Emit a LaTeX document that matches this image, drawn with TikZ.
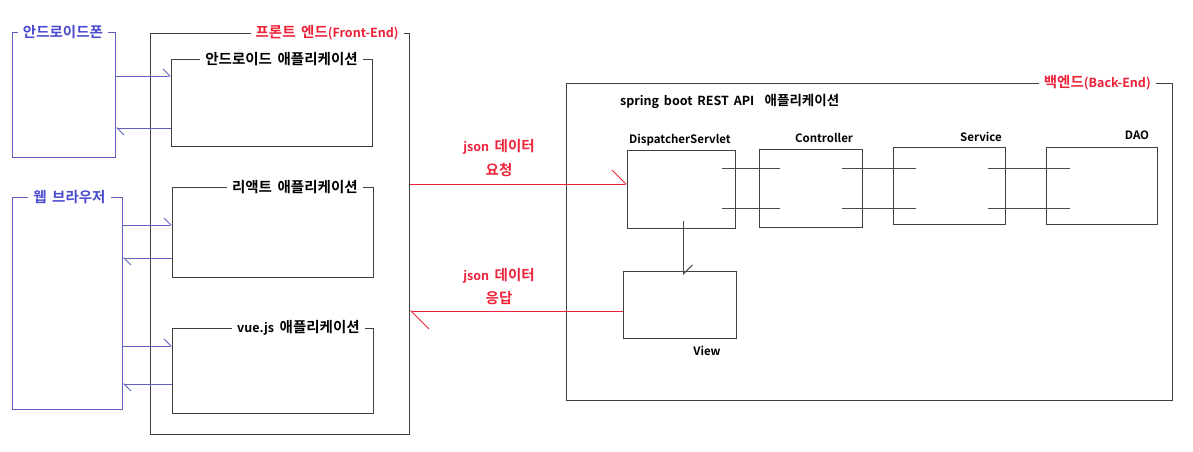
\documentclass[tikz,border=0pt]{standalone}
\usepackage{fontspec}
\setmainfont{Noto Sans CJK KR}[BoldFont={Noto Sans CJK KR Bold}, WordSpace=1.7]
\usetikzlibrary{arrows.meta,calc}
\definecolor{clientblue}{HTML}{4A4AD0}
\definecolor{linkblue}{HTML}{6060C0}
\definecolor{tagred}{HTML}{EE2238}
\newcommand{\en}[1]{{\fontsize{12.5}{15}\selectfont #1}}

\begin{document}
\begin{tikzpicture}[x=1pt, y=-1pt,
  font=\bfseries\fontsize{14.5}{17}\selectfont,
  box/.style={draw=black!75, line width=0.9pt, inner sep=0pt, anchor=north west},
  client/.style={box, draw=linkblue},
  tag/.style={fill=white, inner xsep=5pt, inner ysep=1pt},
  lbl/.style={inner sep=1pt},
  part/.style={inner sep=1pt, font=\bfseries\fontsize{11.5}{14}\selectfont},
  link/.style={draw=black!70, line width=0.9pt},
  call/.style={draw=linkblue, line width=0.9pt,
               -{Straight Barb[harpoon, length=7pt, width=14pt]}},
  json/.style={draw=tagred, line width=0.9pt}]
\useasboundingbox (0,0) rectangle (1193,451);

% client side
\node[client, minimum width=103pt, minimum height=125pt] (phone) at (12,32) {};
\node[client, minimum width=110pt, minimum height=212pt] (browser) at (12,197) {};
\node[tag, text=clientblue] (phonetag) at ([xshift=-1pt]phone.north) {안드로이드폰};
\node[tag, text=clientblue] (browsertag) at ([xshift=2pt]browser.north) {웹 브라우저};

% front-end
\node[box, minimum width=259pt, minimum height=401pt] (fe) at (150,33) {};
\node[tag, anchor=east, text=tagred] (fetag) at ([xshift=-6pt]fe.north east) {프론트 엔드\en{(Front-End)}};
\node[box, minimum width=201pt, minimum height=87pt] (aapp) at (171,59) {};
\node[box, minimum width=201pt, minimum height=90pt] (rapp) at (172,187) {};
\node[box, minimum width=201pt, minimum height=85pt] (vapp) at (172,328) {};
\node[tag, anchor=east] (aapptag) at ([xshift=-10pt]aapp.north east) {안드로이드 애플리케이션};
\node[tag, anchor=east] (rapptag) at ([xshift=-11pt]rapp.north east) {리액트 애플리케이션};
\node[tag, anchor=east] (vapptag) at ([xshift=-9pt]vapp.north east) {\en{vue.js} 애플리케이션};

\foreach \c/\a/\i/\o in {phone/aapp/76/128, browser/rapp/225/258, browser/vapp/346/384} {
  \draw[call] (\c.east |- 0,\i) -- (\a.west |- 0,\i);
  \draw[call] (\a.west |- 0,\o) -- (\c.east |- 0,\o);
}

% back-end
\node[box, minimum width=606pt, minimum height=317pt] (be) at (566,83) {};
\node[tag, anchor=east, text=tagred] (betag) at ([xshift=-17pt]be.north east) {백엔드\en{(Back-End)}};
\node[lbl, anchor=west, font=\bfseries\fontsize{13.5}{16}\selectfont] (spring) at (619,101)
  {\en{spring boot REST API}\ \ 애플리케이션};

\node[box, minimum width=108pt, minimum height=78pt] (ds) at (627,150) {};
\node[box, minimum width=103pt, minimum height=78pt] (ctl) at (759,149) {};
\node[box, minimum width=112pt, minimum height=77pt] (svc) at (893,147) {};
\node[box, minimum width=111pt, minimum height=77pt] (dao) at (1046,147) {};
\node[box, minimum width=113pt, minimum height=67pt] (view) at (623,271) {};
\node[part] (dslbl) at (680,140) {DispatcherServlet};
\node[part] (ctllbl) at (824,138) {Controller};
\node[part] (svclbl) at (981,137) {Service};
\node[part] (daolbl) at (1137,135) {DAO};
\node[part] (viewlbl) at (707,351) {View};

\foreach \a/\b/\s/\t in {ds/ctl/-14/21, ctl/svc/-21/23, svc/dao/-18/24}
  \foreach \y in {168,208}
    \draw[link] ([xshift=\s pt]\a.east |- 0,\y) -- ([xshift=\t pt]\b.west |- 0,\y);

\draw[link, -{Straight Barb[harpoon, length=9pt, width=18pt]}]
  ($(ds.south)+(2,-8)$) -- ($(view.north)+(3.5,4)$);

% json request / response
\draw[json, -{Straight Barb[harpoon, length=14pt, width=28pt]}]
  (fe.east |- 0,184) -- (ds.west |- 0,184);
\draw[json, -{Straight Barb[harpoon, length=18pt, width=36pt]}]
  (view.west |- 0,311) -- (fe.east |- 0,311);
\node[lbl, text=tagred] (reqlbl) at (499,147) {\en{json} 데이터};
\node[lbl, text=tagred] (reqlbl2) at (499,170) {요청};
\node[lbl, text=tagred] (reslbl) at (499,276) {\en{json} 데이터};
\node[lbl, text=tagred] (reslbl2) at (499,298) {응답};
\end{tikzpicture}
\end{document}
